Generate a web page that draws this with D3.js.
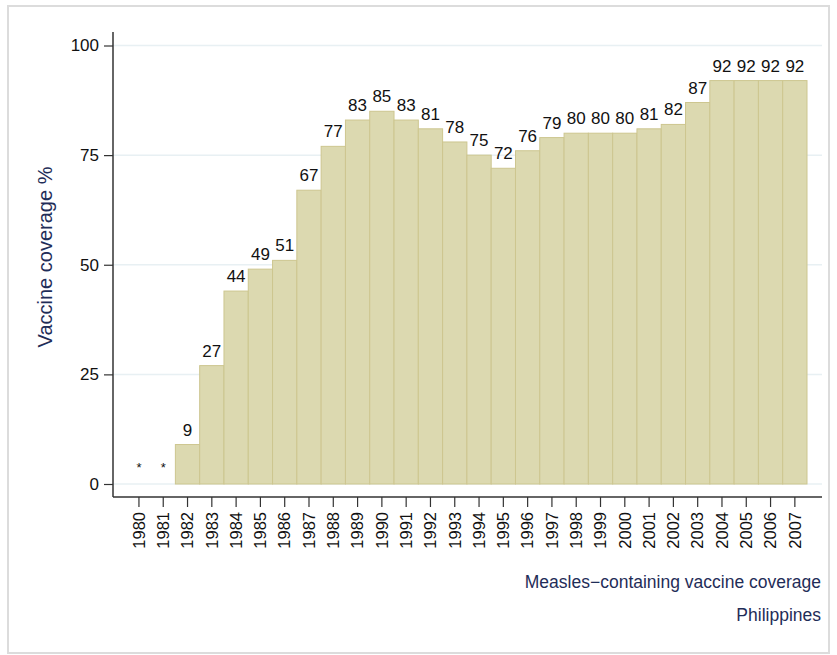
<!DOCTYPE html>
<html>
<head>
<meta charset="utf-8">
<script src="https://cdn.jsdelivr.net/npm/d3@7"></script>
<style>
  html, body { margin: 0; padding: 0; background: #fff; }
  svg { display: block; font-family: "Liberation Sans", Arial, Helvetica, sans-serif; }
</style>
</head>
<body>
<svg id="chart" width="837" height="655"></svg>
<script>
// Measles-containing vaccine coverage, Philippines, 1980–2007
const years = [1980, 1981, 1982, 1983, 1984, 1985, 1986, 1987, 1988, 1989, 1990,
               1991, 1992, 1993, 1994, 1995, 1996, 1997, 1998, 1999, 2000,
               2001, 2002, 2003, 2004, 2005, 2006, 2007];
// null = no data reported (shown as *)
const coverage = [null, null, 9, 27, 44, 49, 51, 67, 77, 83, 85,
                  83, 81, 78, 75, 72, 76, 79, 80, 80, 80,
                  81, 82, 87, 92, 92, 92, 92];
const yTicks = [0, 25, 50, 75, 100];
const yTitle = "Vaccine coverage %";
const noteLines = ["Measles\u2212containing vaccine coverage", "Philippines"];

const svg = d3.select("#chart");
const W = 837, H = 655;
const FONT = "Liberation Sans, Arial, sans-serif";

// outer frame
svg.append("rect")
  .attr("x", 8).attr("y", 6).attr("width", W - 16).attr("height", H - 8)
  .attr("fill", "#fff").attr("stroke", "#dcdcdc").attr("stroke-width", 2);

const plot = { left: 113, right: 822, top: 32, bottom: 497 };

const x = d3.scaleBand()
  .domain(years)
  .range([126.8, 807])
  .paddingInner(0).paddingOuter(0);

const y = d3.scaleLinear()
  .domain([0, 100])
  .range([484, 45.5]);

// grid lines
svg.append("g")
  .selectAll("line")
  .data(yTicks)
  .join("line")
  .attr("x1", plot.left).attr("x2", plot.right)
  .attr("y1", d => y(d)).attr("y2", d => y(d))
  .attr("stroke", "#e8f0f3").attr("stroke-width", 1.5);

// bars
const data = years.map((yr, i) => ({ year: yr, value: coverage[i] }));
svg.append("g")
  .selectAll("rect")
  .data(data.filter(d => d.value !== null))
  .join("rect")
  .attr("x", d => x(d.year))
  .attr("width", x.bandwidth())
  .attr("y", d => y(d.value))
  .attr("height", d => y(0) - y(d.value))
  .attr("fill", "#dcd9b0")
  .attr("stroke", "#cdc68f")
  .attr("stroke-width", 1);

// value labels
svg.append("g")
  .selectAll("text")
  .data(data)
  .join("text")
  .attr("x", d => x(d.year) + x.bandwidth() / 2)
  .attr("y", d => d.value === null ? y(0) - 12 : y(d.value) - 9)
  .attr("text-anchor", "middle")
  .attr("font-size", d => d.value === null ? 13 : 17)
  .attr("fill", "#111")
  .text(d => d.value === null ? "*" : d.value);

// y axis
const yAxis = svg.append("g")
  .attr("transform", `translate(${plot.left},0)`)
  .call(d3.axisLeft(y).tickValues(yTicks).tickSize(9).tickPadding(5));
yAxis.attr("font-family", FONT);
yAxis.select(".domain").attr("d", `M0,${plot.top}V${plot.bottom}`).attr("stroke", "#333").attr("stroke-width", 1.5);
yAxis.selectAll(".tick line").attr("stroke", "#333").attr("stroke-width", 1.2);
yAxis.selectAll(".tick text").attr("font-size", 17).attr("fill", "#111");

// x axis
const xAxis = svg.append("g")
  .attr("transform", `translate(0,${plot.bottom})`)
  .call(d3.axisBottom(x).tickSize(10).tickPadding(5));
xAxis.attr("font-family", FONT);
xAxis.select(".domain").attr("d", `M${plot.left},0H${plot.right}`).attr("stroke", "#333").attr("stroke-width", 1.5);
xAxis.selectAll(".tick line").attr("stroke", "#333").attr("stroke-width", 1.2);
xAxis.selectAll(".tick text")
  .attr("font-size", 16.5).attr("fill", "#111")
  .attr("transform", "rotate(-90)")
  .attr("text-anchor", "end")
  .attr("dy", "0.35em")
  .attr("x", -15).attr("y", 0);

// y axis title
svg.append("text")
  .attr("transform", "translate(52,257) rotate(-90)")
  .attr("text-anchor", "middle")
  .attr("font-size", 20)
  .attr("fill", "#1f2d58")
  .text(yTitle);

// notes
svg.append("g")
  .selectAll("text")
  .data(noteLines)
  .join("text")
  .attr("x", 821)
  .attr("y", (d, i) => 588 + i * 33)
  .attr("text-anchor", "end")
  .attr("font-size", 17.5)
  .attr("fill", "#1f2d58")
  .text(d => d);
</script>
</body>
</html>
